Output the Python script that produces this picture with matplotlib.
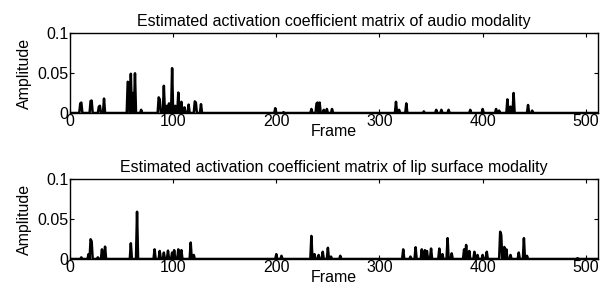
import matplotlib
matplotlib.use('Agg')
import matplotlib.pyplot as plt
import numpy as np

plt.rcParams['font.family'] = ['Liberation Sans', 'DejaVu Sans']

n_frames = 512

# audio modality: peak frames and amplitudes
audio_frames = [10, 11, 20, 21, 28, 29, 33, 56, 57, 59, 61, 63, 69, 86, 87, 91, 94, 96, 99,
                102, 105, 108, 111, 115, 121, 122, 127, 199, 207, 234, 239, 240, 242, 246, 249,
                254, 316, 319, 326, 343, 355, 360, 367, 388, 400, 413, 416, 424, 427, 430,
                444, 448]
audio_vals = [0.012, 0.013, 0.015, 0.0155, 0.008, 0.009, 0.018, 0.039, 0.037, 0.049, 0.025,
              0.0496, 0.004, 0.0195, 0.017, 0.034, 0.009, 0.012, 0.056, 0.009, 0.0255, 0.014,
              0.007, 0.0105, 0.0145, 0.013, 0.011, 0.006, 0.001, 0.005, 0.012, 0.013, 0.013,
              0.004, 0.005, 0.005, 0.014, 0.004, 0.012, 0.002, 0.004, 0.004, 0.004, 0.004,
              0.005, 0.005, 0.003, 0.017, 0.008, 0.025, 0.010, 0.003]

# lip surface modality: peak frames and amplitudes
lip_frames = [11, 18, 20, 21, 27, 31, 34, 59, 65, 82, 87, 91, 95, 99, 101, 105, 108, 117,
              120, 200, 205, 234, 237, 241, 245, 250, 253, 262, 323, 330, 335, 341, 344, 346,
              350, 358, 361, 366, 370, 382, 384, 387, 392, 395, 400, 404, 417, 418, 421, 423,
              427, 435, 440, 443, 492]
lip_vals = [0.002, 0.006, 0.0246, 0.022, 0.002, 0.012, 0.0154, 0.0196, 0.059, 0.012, 0.010,
            0.008, 0.0104, 0.008, 0.011, 0.012, 0.011, 0.0205, 0.005, 0.006, 0.004, 0.0288,
            0.006, 0.005, 0.009, 0.014, 0.003, 0.004, 0.012, 0.003, 0.0146, 0.012, 0.011,
            0.010, 0.013, 0.013, 0.006, 0.026, 0.007, 0.012, 0.0175, 0.010, 0.009, 0.005,
            0.005, 0.009, 0.034, 0.030, 0.015, 0.012, 0.005, 0.008, 0.026, 0.004, 0.001]

titles = ['Estimated activation coefficient matrix of audio modality',
          'Estimated activation coefficient matrix of lip surface modality']

fig = plt.figure(figsize=(6.16, 2.97), dpi=100)
ax1 = fig.add_axes([0.1136, 0.6195, 0.8575, 0.2695])
ax2 = fig.add_axes([0.1136, 0.128, 0.8575, 0.2695])

for ax, frames, vals, title in [(ax1, audio_frames, audio_vals, titles[0]),
                                (ax2, lip_frames, lip_vals, titles[1])]:
    y = np.zeros(n_frames)
    y[frames] = vals
    ax.plot(np.arange(n_frames), y, color='black', linewidth=1.8)
    ax.set_xlim(0, 512)
    ax.set_ylim(0, 0.1)
    ax.set_xticks([0, 100, 200, 300, 400, 500])
    ax.set_yticks([0, 0.05, 0.1])
    ax.set_yticklabels(['0', '0.05', '0.1'])
    ax.tick_params(direction='in', top=True, right=True, labelsize=11.5, length=3, pad=1)
    ax.set_xlabel('Frame', fontsize=11.5, labelpad=-4)
    ax.set_ylabel('Amplitude', fontsize=11.5, labelpad=4)
    ax.set_title(title, fontsize=11.5, pad=5)
    for s in ax.spines.values():
        s.set_linewidth(1.0)

fig.savefig('out.png', dpi=100)
